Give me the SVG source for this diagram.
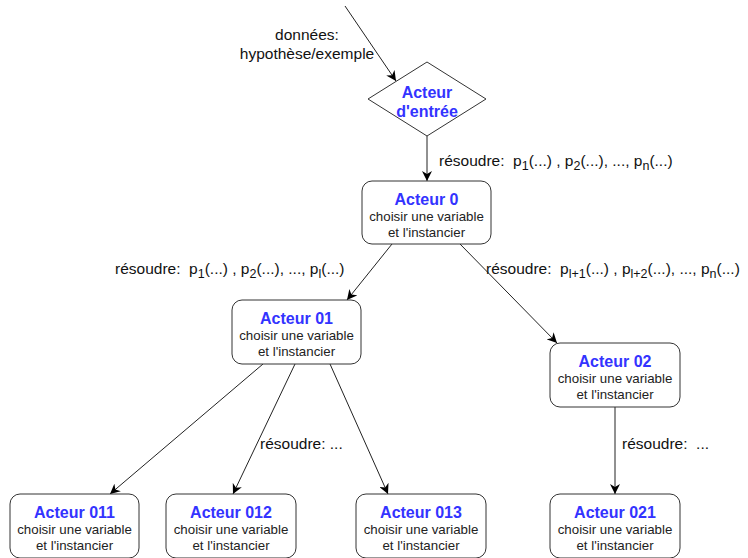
<svg xmlns="http://www.w3.org/2000/svg" width="748" height="558" viewBox="0 0 748 558">
<defs>
<marker id="arr" viewBox="0 0 10 10" refX="10" refY="5" markerWidth="10" markerHeight="10" markerUnits="userSpaceOnUse" orient="auto">
<path d="M0,0 L10,5 L0,10 L3,5 Z" fill="#000"/>
</marker>
<style>
.box{fill:#fff;stroke:#333;stroke-width:1}
.t{font-family:"Liberation Sans",Arial,sans-serif;font-size:16px;font-weight:bold;fill:#3333ff;text-anchor:middle}
.s{font-family:"Liberation Sans",Arial,sans-serif;font-size:13.3px;fill:#222;text-anchor:middle}
.l{font-family:"Liberation Sans",Arial,sans-serif;font-size:15.5px;fill:#111;white-space:pre}
.sub{font-size:12.5px}
.e{fill:none;stroke:#222;stroke-width:1;marker-end:url(#arr)}
</style>
</defs>
<rect width="748" height="558" fill="#fff"/>
<g id="edges">
<line class="e" x1="345" y1="6" x2="396" y2="81"/>
<line class="e" x1="427" y1="136" x2="427" y2="181"/>
<line class="e" x1="392" y1="244" x2="347" y2="300"/>
<line class="e" x1="460" y1="244" x2="557" y2="343"/>
<line class="e" x1="263" y1="364" x2="110" y2="494"/>
<line class="e" x1="295" y1="364" x2="233" y2="494"/>
<line class="e" x1="330" y1="364" x2="388" y2="494"/>
<line class="e" x1="615" y1="407" x2="615" y2="494"/>
</g>
<g id="labels">
<text class="l" x="307" y="40" text-anchor="middle">données:</text>
<text class="l" x="307" y="59" text-anchor="middle">hypothèse/exemple</text>
<text class="l" x="439" y="166" xml:space="preserve">résoudre:  p<tspan class="sub" dy="4">1</tspan><tspan dy="-4">(...) , p</tspan><tspan class="sub" dy="4">2</tspan><tspan dy="-4">(...), ..., p</tspan><tspan class="sub" dy="4">n</tspan><tspan dy="-4">(...)</tspan></text>
<text class="l" x="115" y="274" xml:space="preserve">résoudre:  p<tspan class="sub" dy="4">1</tspan><tspan dy="-4">(...) , p</tspan><tspan class="sub" dy="4">2</tspan><tspan dy="-4">(...), ..., p</tspan><tspan class="sub" dy="4">l</tspan><tspan dy="-4">(...)</tspan></text>
<text class="l" x="486" y="274" xml:space="preserve">résoudre:  p<tspan class="sub" dy="4">l+1</tspan><tspan dy="-4">(...) , p</tspan><tspan class="sub" dy="4">l+2</tspan><tspan dy="-4">(...), ..., p</tspan><tspan class="sub" dy="4">n</tspan><tspan dy="-4">(...)</tspan></text>
<text class="l" x="260" y="449" xml:space="preserve">résoudre: ...</text>
<text class="l" x="622" y="449" xml:space="preserve">résoudre:  ...</text>
</g>
<g id="entree">
<polygon class="box" points="427,62 486,99 427,136 368,99"/>
<text class="t" x="427" y="98">Acteur</text>
<text class="t" x="427" y="117">d'entrée</text>
</g>
<g id="a0">
<rect class="box" x="362" y="181" width="129" height="63" rx="10"/>
<text class="t" x="426.5" y="205">Acteur 0</text>
<text class="s" x="426.5" y="221">choisir une variable</text>
<text class="s" x="426.5" y="237">et l'instancier</text>
</g>
<g id="a01">
<rect class="box" x="232" y="300" width="129" height="64" rx="10"/>
<text class="t" x="296.5" y="324">Acteur 01</text>
<text class="s" x="296.5" y="340">choisir une variable</text>
<text class="s" x="296.5" y="356">et l'instancier</text>
</g>
<g id="a02">
<rect class="box" x="550" y="343" width="130" height="64" rx="10"/>
<text class="t" x="615" y="367">Acteur 02</text>
<text class="s" x="615" y="383">choisir une variable</text>
<text class="s" x="615" y="399">et l'instancier</text>
</g>
<g id="a011">
<rect class="box" x="10" y="494" width="129" height="64" rx="10"/>
<text class="t" x="74.5" y="518">Acteur 011</text>
<text class="s" x="74.5" y="534">choisir une variable</text>
<text class="s" x="74.5" y="550">et l'instancier</text>
</g>
<g id="a012">
<rect class="box" x="166" y="494" width="130" height="64" rx="10"/>
<text class="t" x="231" y="518">Acteur 012</text>
<text class="s" x="231" y="534">choisir une variable</text>
<text class="s" x="231" y="550">et l'instancier</text>
</g>
<g id="a013">
<rect class="box" x="356" y="494" width="130" height="64" rx="10"/>
<text class="t" x="421" y="518">Acteur 013</text>
<text class="s" x="421" y="534">choisir une variable</text>
<text class="s" x="421" y="550">et l'instancier</text>
</g>
<g id="a021">
<rect class="box" x="550" y="494" width="130" height="64" rx="10"/>
<text class="t" x="615" y="518">Acteur 021</text>
<text class="s" x="615" y="534">choisir une variable</text>
<text class="s" x="615" y="550">et l'instancier</text>
</g>
</svg>
